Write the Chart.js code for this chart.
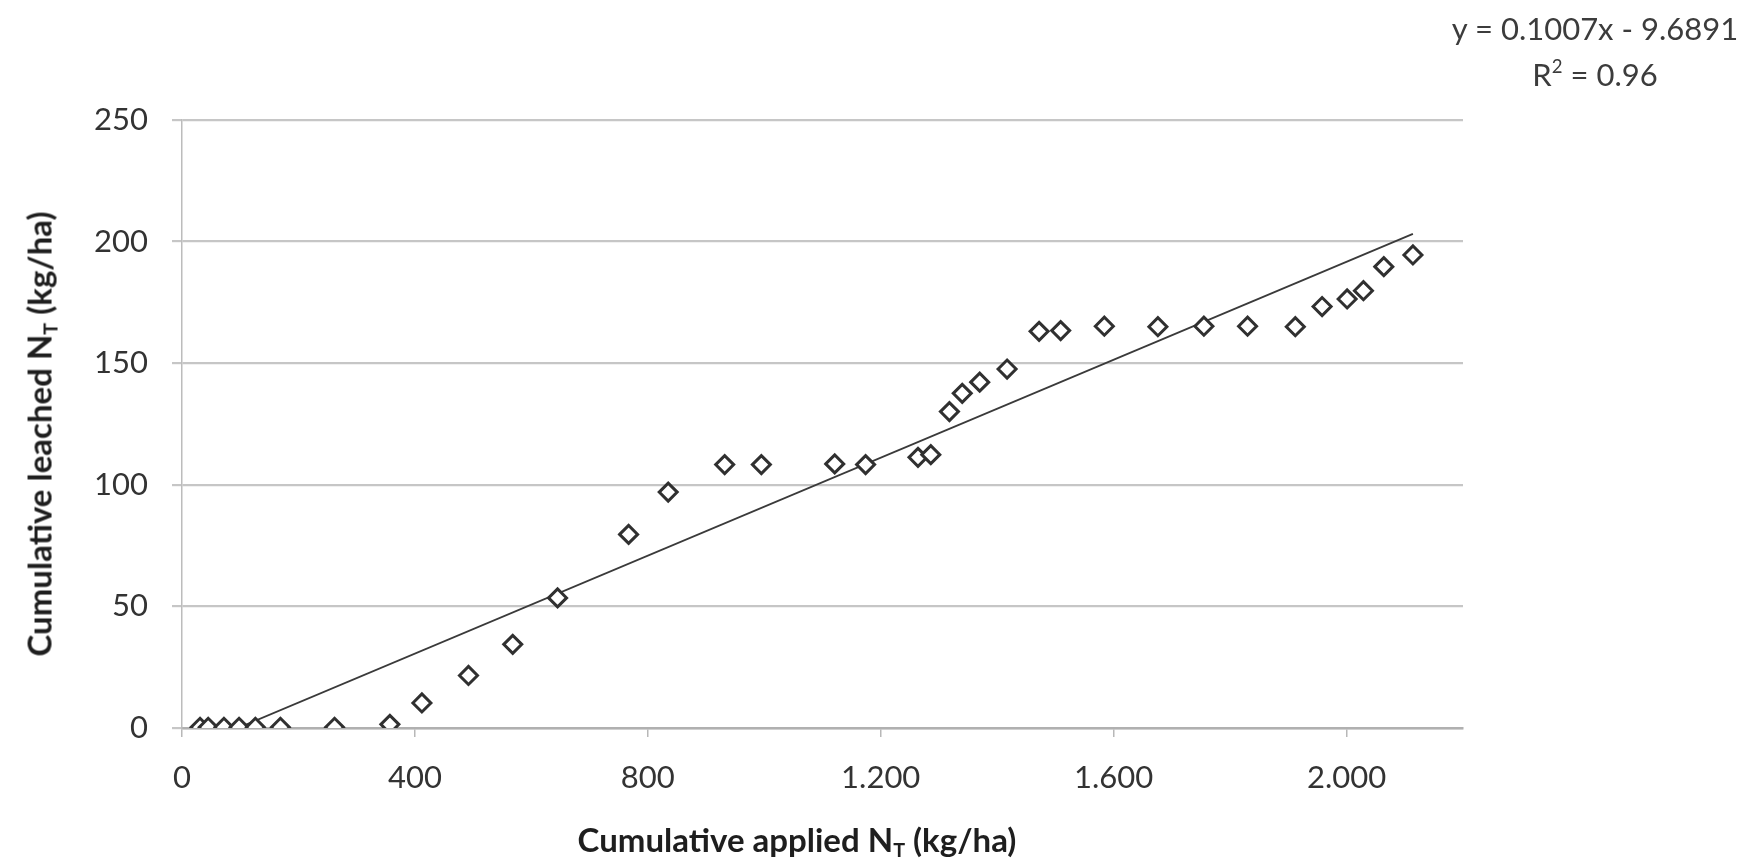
<!DOCTYPE html>
<html>
<head>
<meta charset="utf-8">
<script src="https://cdn.jsdelivr.net/npm/chart.js@4.4.1/dist/chart.umd.min.js"></script>
<style>
    body { margin: 0; background: #fff; }
    #wrap { position: relative; width: 1761px; height: 867px; font-family: Lato, "Open Sans", sans-serif; }
    #chart { position: absolute; left: 0; top: 0; }
    .label { position: absolute; white-space: nowrap; }
    #equation { left: 1595px; top: 9px; transform: translateX(-50%); font-size: 31px; line-height: 38px; color: #3c3c3c; text-align: center; }
    #xTitle { left: 797px; top: 840px; transform: translate(-50%, -50%); font-size: 33px; font-weight: bold; color: #1e1e1e; }
    #yTitle { left: 40px; top: 434px; transform: translate(-50%, -50%) rotate(-90deg); font-size: 33px; font-weight: bold; color: #1e1e1e; }
    sub { font-size: 0.6em; vertical-align: -0.3em; }
    sup { font-size: 0.6em; vertical-align: 0.7em; }
</style>
</head>
<body>
<div id="wrap">
    <canvas id="chart" width="1761" height="867"></canvas>
    <div id="equation" class="label">y = 0.1007x - 9.6891<br>R<sup>2</sup> = 0.96</div>
    <div id="xTitle" class="label">Cumulative applied N<sub>T</sub> (kg/ha)</div>
    <div id="yTitle" class="label">Cumulative leached N<sub>T</sub> (kg/ha)</div>
</div>
<script>
// valores
const appliedN = [31, 45, 72, 98, 126, 169, 262, 357, 412, 492, 568, 645, 767, 835, 932, 995, 1121, 1174, 1264, 1286, 1318, 1340, 1370, 1417, 1472, 1509, 1584, 1676, 1755, 1830, 1912, 1958, 2001, 2029, 2064, 2114];
const leachedN = [0.3, 0.3, 0.3, 0.3, 0.3, 0.3, 0.3, 1.5, 10.3, 21.6, 34.4, 53.5, 79.6, 97.0, 108.3, 108.3, 108.6, 108.3, 111.3, 112.4, 130.1, 137.6, 142.2, 147.6, 163.1, 163.4, 165.2, 165.0, 165.2, 165.2, 165.0, 173.3, 176.4, 179.8, 189.7, 194.5];

const trendSlope = 0.1007;
const trendIntercept = -9.6891;

const xTickValues = [0, 400, 800, 1200, 1600, 2000];
const xTickLabels = ['0', '400', '800', '1.200', '1.600', '2.000'];
const yTickValues = [0, 50, 100, 150, 200, 250];

document.addEventListener('DOMContentLoaded', function() {
    const points = appliedN.map((x, i) => ({ x: x, y: leachedN[i] }));
    const xMin = Math.min(...appliedN);
    const xMax = Math.max(...appliedN);
    const trend = [xMin, xMax].map(x => ({ x: x, y: trendSlope * x + trendIntercept }));

    const tickFont = { family: 'Lato', size: 31 };

    const ctx = document.getElementById('chart').getContext('2d');
    new Chart(ctx, {
        type: 'scatter',
        data: {
            datasets: [{
                label: 'Datos',
                data: points,
                pointStyle: 'rectRot',
                pointRadius: 9,
                pointBorderWidth: 3,
                borderColor: '#303030',
                backgroundColor: '#fff',
                order: 0
            }, {
                type: 'line',
                label: 'Tendencia',
                data: trend,
                borderColor: '#3a3a3a',
                borderWidth: 1.8,
                pointRadius: 0,
                fill: false,
                clip: 0,
                order: 1
            }]
        },
        options: {
            responsive: false,
            animation: false,
            layout: { padding: { left: 0, right: 298, top: 120, bottom: 0 } },
            plugins: {
                legend: { display: false },
                tooltip: { enabled: false }
            },
            scales: {
                x: {
                    type: 'linear',
                    min: 0,
                    max: 2200,
                    afterBuildTicks: scale => { scale.ticks = xTickValues.map(v => ({ value: v })); },
                    afterFit: scale => { scale.height = 139; },
                    grid: { drawOnChartArea: false, drawTicks: true, tickLength: 9, color: '#b8b8b8', lineWidth: 1.5 },
                    border: { display: true, color: '#b0b0b0', width: 2.5 },
                    ticks: {
                        font: tickFont,
                        color: '#333',
                        padding: 22,
                        maxRotation: 0,
                        callback: (value) => xTickLabels[xTickValues.indexOf(value)]
                    }
                },
                y: {
                    min: 0,
                    max: 250,
                    afterBuildTicks: scale => { scale.ticks = yTickValues.map(v => ({ value: v })); },
                    afterFit: scale => { scale.width = 182; },
                    grid: { color: '#c6c6c6', lineWidth: 2.2, tickLength: 10 },
                    border: { display: true, color: '#bcbcbc', width: 1.5 },
                    ticks: { font: tickFont, color: '#333', padding: 24 }
                }
            }
        }
    });
});
</script>
</body>
</html>
